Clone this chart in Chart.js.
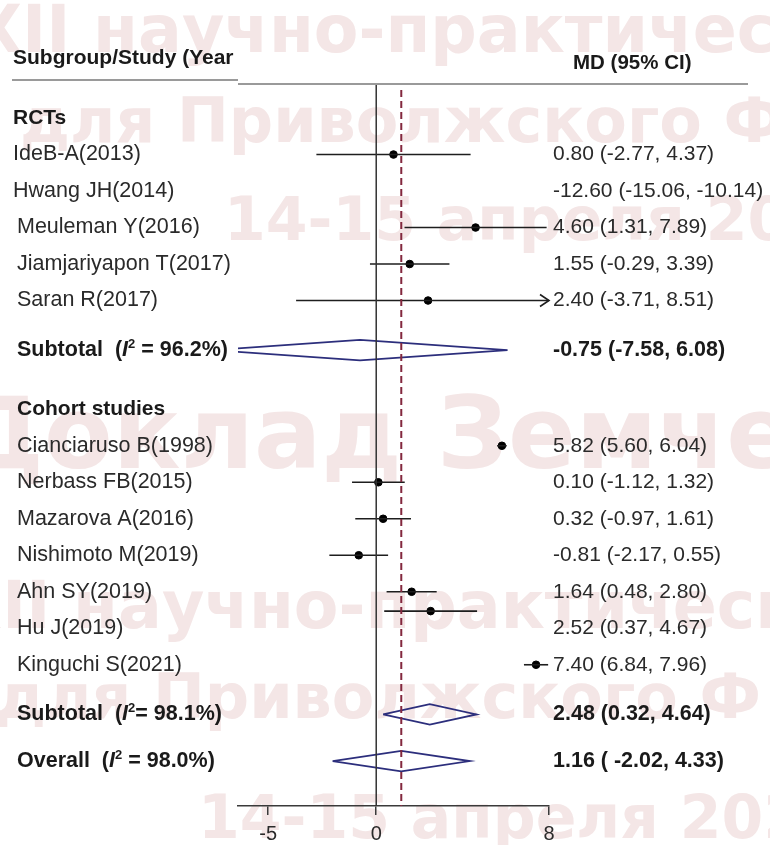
<!DOCTYPE html>
<html>
<head>
<meta charset="utf-8">
<script src="https://cdn.jsdelivr.net/npm/chart.js@4.4.1/dist/chart.umd.min.js"></script>
<style>
  html, body { margin: 0; padding: 0; background: #ffffff; }
  #wrap { width: 770px; height: 845px; position: relative; }
</style>
</head>
<body>
<div id="wrap"><canvas id="forest"></canvas></div>
<script>
// Forest plot: mean difference (MD, 95% CI) by study design

const rctStudies = ['IdeB-A(2013)', 'Hwang JH(2014)', 'Meuleman Y(2016)', 'Jiamjariyapon T(2017)', 'Saran R(2017)'];
const rctMD   = [0.80, -12.60, 4.60, 1.55, 2.40];
const rctLow  = [-2.77, -15.06, 1.31, -0.29, -3.71];
const rctHigh = [4.37, -10.14, 7.89, 3.39, 8.51];

const cohortStudies = ['Cianciaruso B(1998)', 'Nerbass FB(2015)', 'Mazarova A(2016)', 'Nishimoto M(2019)', 'Ahn SY(2019)', 'Hu J(2019)', 'Kinguchi S(2021)'];
const cohortMD   = [5.82, 0.10, 0.32, -0.81, 1.64, 2.52, 7.40];
const cohortLow  = [5.60, -1.12, -0.97, -2.17, 0.48, 0.37, 6.84];
const cohortHigh = [6.04, 1.32, 1.61, 0.55, 2.80, 4.67, 7.96];

const groupNames   = ['RCTs', 'Cohort studies'];
const subtotalMD   = [-0.75, 2.48];
const subtotalLow  = [-7.58, 0.32];
const subtotalHigh = [6.08, 4.64];
const subtotalI2   = ['96.2%', '98.1%'];

const overallEstimate = [1.16, -2.02, 4.33];   // MD, lower, upper
const overallI2 = '98.0%';

const xTicks = [-5, 0, 8];

// ---- layout of the rows (in row units, top to bottom) ----
const X_MIN = -6.4, X_MAX = 8;
const Y_TOP = -0.96, Y_BOTTOM = 18.85;
const DIAMOND_HALF = 0.28;

const groups = [
  { names: rctStudies, md: rctMD, lo: rctLow, hi: rctHigh },
  { names: cohortStudies, md: cohortMD, lo: cohortLow, hi: cohortHigh }
];

// this whisker is printed half a row above its label
const markNudge = { 'Hu J(2019)': -0.47 };

const rows = [];
let r = 0;
groups.forEach((g, gi) => {
  if (gi > 0) r += 1.62;
  rows.push({ kind: 'group', label: groupNames[gi], r });
  g.names.forEach((name, i) => {
    r += 1;
    rows.push({ kind: 'study', label: name, r, md: g.md[i], lo: g.lo[i], hi: g.hi[i] });
  });
  r += 1.36;
  rows.push({ kind: 'subtotal', label: 'Subtotal', i2: subtotalI2[gi], tight: gi === 1, r,
              md: subtotalMD[gi], lo: subtotalLow[gi], hi: subtotalHigh[gi] });
});
r += 1.28;
rows.push({ kind: 'overall', label: 'Overall', i2: overallI2, r,
            md: overallEstimate[0], lo: overallEstimate[1], hi: overallEstimate[2] });

const fmt = v => v.toFixed(2);
function ciText(row) {
  const pad = row.kind === 'overall' ? ' ' : '';
  return fmt(row.md) + ' (' + pad + fmt(row.lo) + ', ' + fmt(row.hi) + ')';
}

// ---- datasets ----
const INK = '#1e1e1e';
const NAVY = '#2c2e7c';
const datasets = [];

datasets.push({
  label: 'no effect', showLine: true, borderColor: '#333333', borderWidth: 1.5,
  pointRadius: 0, data: [{ x: 0, y: Y_TOP }, { x: 0, y: Y_BOTTOM }]
});
datasets.push({
  label: 'overall MD', showLine: true, borderColor: '#83283e', borderWidth: 2,
  borderDash: [7, 4], pointRadius: 0,
  data: [{ x: overallEstimate[0], y: -0.77 }, { x: overallEstimate[0], y: Y_BOTTOM }]
});

const studyRows = rows.filter(rw => rw.kind === 'study');
studyRows.forEach(rw => {
  const y = rw.r + (markNudge[rw.label] || 0);
  datasets.push({
    label: rw.label, showLine: true, borderColor: INK, borderWidth: 1.6, pointRadius: 0,
    data: [{ x: rw.lo, y }, { x: rw.hi, y }]
  });
});
datasets.push({
  label: 'MD', showLine: false, pointRadius: 3.8, pointBackgroundColor: '#000',
  pointBorderColor: '#000', pointBorderWidth: 1,
  data: studyRows.map(rw => ({ x: rw.md, y: rw.r + (markNudge[rw.label] || 0) }))
});

rows.filter(rw => rw.kind === 'subtotal' || rw.kind === 'overall').forEach(rw => {
  datasets.push({
    label: rw.label, showLine: true, borderColor: NAVY, borderWidth: 1.8, pointRadius: 0,
    fill: false, tension: 0,
    data: [
      { x: rw.lo, y: rw.r }, { x: rw.md, y: rw.r - DIAMOND_HALF },
      { x: rw.hi, y: rw.r }, { x: rw.md, y: rw.r + DIAMOND_HALF },
      { x: rw.lo, y: rw.r }
    ]
  });
});

// ---- text and decorations ----
const FONT = '"Liberation Sans", Arial, sans-serif';
const WM_FONT = '"DejaVu Sans", Verdana, sans-serif';

function drawRich(ctx, x, y, parts) {
  parts.forEach(p => {
    ctx.font = p.font;
    ctx.fillText(p.t, x, y + (p.dy || 0));
    x += ctx.measureText(p.t).width;
  });
}

// conference watermark behind the plot
const watermark = {
  id: 'watermark',
  beforeDraw(chart) {
    const ctx = chart.ctx;
    ctx.save();
    ctx.fillStyle = '#f4e6e6';
    ctx.textBaseline = 'alphabetic';
    const lines = [
      ['XII научно-практической', 65, -28, 52],
      ['для Приволжского Ф', 62, 20, 142],
      ['14-15 апреля 2022', 60, 224, 240],
      ['Доклад Земченкова', 100, -45, 468],
      ['XII научно-практической', 65, -48, 628],
      ['для Приволжского Ф', 62, -4, 718],
      ['14-15 апреля 2022', 60, 198, 838]
    ];
    lines.forEach(([t, size, x, y]) => {
      ctx.font = 'bold ' + size + 'px ' + WM_FONT;
      ctx.fillText(t, x, y);
    });
    ctx.restore();
  }
};

const forestText = {
  id: 'forestText',
  afterDraw(chart) {
    const ctx = chart.ctx;
    const ys = chart.scales.y, xs = chart.scales.x;
    const LEFT = 16, RIGHT = 553;
    ctx.save();
    ctx.textBaseline = 'middle';

    // column headers and rule
    ctx.fillStyle = '#1a1a1a';
    ctx.font = 'bold 21px ' + FONT;
    ctx.fillText('Subgroup/Study (Year', 13, ys.getPixelForValue(-1.64));
    ctx.font = 'bold 20.5px ' + FONT;
    ctx.fillText('MD (95% CI)', 573, ys.getPixelForValue(-1.5));
    ctx.strokeStyle = '#9a9a9a';
    ctx.lineWidth = 2;
    ctx.beginPath();
    ctx.moveTo(12, 80); ctx.lineTo(238, 80);
    ctx.moveTo(238, 84); ctx.lineTo(748, 84);
    ctx.stroke();

    rows.forEach((rw, idx) => {
      const y = ys.getPixelForValue(rw.r);
      const lx = idx < 3 ? 13 : LEFT + 1;
      if (rw.kind === 'group') {
        ctx.fillStyle = '#1a1a1a';
        ctx.font = 'bold 21px ' + FONT;
        ctx.fillText(rw.label, lx, y);
      } else if (rw.kind === 'study') {
        ctx.fillStyle = '#2a2a2a';
        ctx.font = '21.5px ' + FONT;
        ctx.fillText(rw.label, lx, y);
        ctx.font = '21px ' + FONT;
        ctx.fillText(ciText(rw), RIGHT, y);
        // open arrow where the interval runs past the axis
        if (rw.hi > X_MAX) {
          const ym = ys.getPixelForValue(rw.r + (markNudge[rw.label] || 0));
          const xe = xs.right;
          ctx.strokeStyle = INK; ctx.lineWidth = 1.6;
          ctx.beginPath();
          ctx.moveTo(xe - 9, ym - 6); ctx.lineTo(xe, ym); ctx.lineTo(xe - 9, ym + 6);
          ctx.stroke();
        }
      } else {
        ctx.fillStyle = '#1a1a1a';
        const b = 'bold 21.5px ' + FONT;
        drawRich(ctx, lx, y, [
          { t: rw.label + '  (', font: b },
          { t: 'I', font: 'italic bold 21.5px ' + FONT },
          { t: '2', font: 'bold 13px ' + FONT, dy: -6 },
          { t: (rw.tight ? '= ' : ' = ') + rw.i2 + ')', font: b }
        ]);
        ctx.font = b;
        ctx.fillText(ciText(rw), RIGHT, y);
      }
    });
    ctx.restore();
  }
};

new Chart(document.getElementById('forest'), {
  type: 'scatter',
  data: { datasets },
  plugins: [watermark, forestText],
  options: {
    responsive: true,
    maintainAspectRatio: false,
    animation: false,
    events: [],
    layout: { padding: { left: 238, right: 221, top: 83, bottom: 3 } },
    plugins: { legend: { display: false }, tooltip: { enabled: false } },
    scales: {
      x: {
        type: 'linear', min: X_MIN, max: X_MAX,
        afterBuildTicks: s => { s.ticks = xTicks.map(v => ({ value: v })); },
        afterFit: s => { s.height = 36; },
        grid: { display: true, drawOnChartArea: false, drawTicks: true, tickLength: 9,
                color: '#3a3a3a', lineWidth: 1.5 },
        border: { display: true, color: '#3a3a3a', width: 1.5 },
        ticks: { color: '#2a2a2a', font: { family: FONT, size: 20 }, padding: 7,
                 autoSkip: false, maxRotation: 0 }
      },
      y: {
        type: 'linear', min: Y_TOP, max: Y_BOTTOM, reverse: true, display: false
      }
    }
  }
});
</script>
</body>
</html>
